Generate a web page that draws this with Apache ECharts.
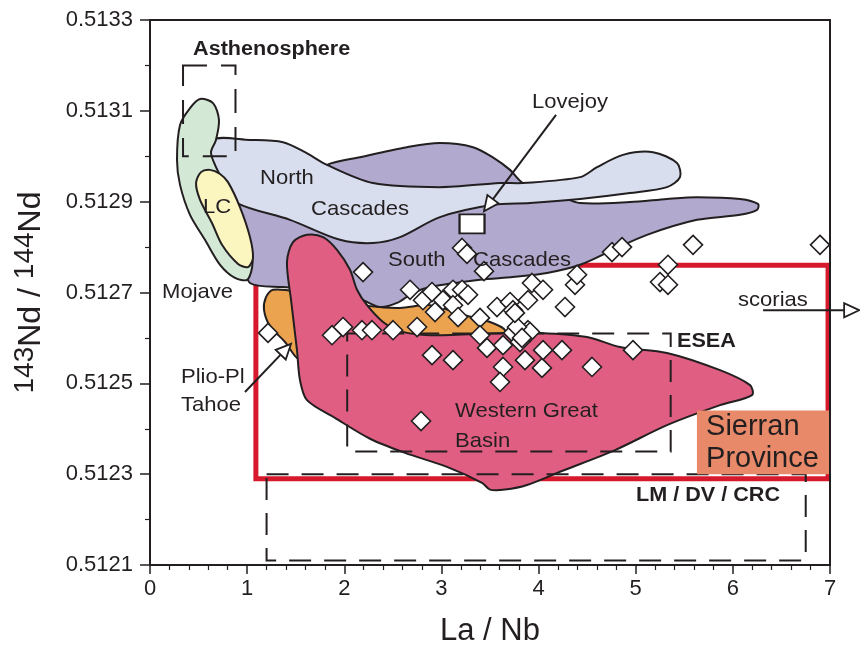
<!DOCTYPE html>
<html><head><meta charset="utf-8">
<script src="https://cdn.jsdelivr.net/npm/echarts@6/dist/echarts.min.js"></script>
<style>html,body{margin:0;padding:0;background:#fff}#c{width:860px;height:654px}</style>
</head><body><div id="c"></div>
<script>
// ---- axis ticks ----
const xTicks = [0, 1, 2, 3, 4, 5, 6, 7];
const yTicks = [0.5121, 0.5123, 0.5125, 0.5127, 0.5129, 0.5131, 0.5133];

// ---- field outlines [La/Nb, 143Nd/144Nd] ----
const mojave = [[0.515,0.513126],[0.649,0.513117],[0.710,0.513080],[0.679,0.513036],[0.628,0.513009],[0.669,0.512981],[0.772,0.512937],[0.885,0.512888],[0.988,0.512827],[1.050,0.512783],[1.050,0.512754],[0.999,0.512728],[0.875,0.512732],[0.721,0.512761],[0.566,0.512816],[0.412,0.512871],[0.309,0.512937],[0.278,0.512992],[0.309,0.513069],[0.412,0.513106]];
const lc = [[0.618,0.512970],[0.721,0.512961],[0.803,0.512943],[0.926,0.512888],[1.029,0.512822],[1.060,0.512776],[1.009,0.512756],[0.906,0.512763],[0.741,0.512805],[0.638,0.512853],[0.515,0.512904],[0.474,0.512941],[0.525,0.512965]];
const northCascades = [[0.638,0.513036],[1.029,0.513036],[1.369,0.513031],[1.596,0.513009],[1.822,0.512981],[2.296,0.512941],[2.985,0.512932],[3.603,0.512941],[3.840,0.512941],[4.427,0.512954],[4.602,0.512976],[4.869,0.513003],[5.178,0.513009],[5.425,0.512985],[5.456,0.512954],[5.322,0.512932],[4.941,0.512919],[4.427,0.512906],[3.912,0.512897],[3.531,0.512893],[2.985,0.512866],[2.574,0.512822],[2.296,0.512809],[1.956,0.512816],[1.441,0.512860],[0.896,0.512897],[0.741,0.512937],[0.638,0.512981]];
const southCascades = [[0.875,0.512908],[1.441,0.512926],[1.822,0.512981],[2.162,0.512998],[2.646,0.513020],[2.985,0.513029],[3.325,0.513020],[3.541,0.512996],[3.706,0.512970],[3.840,0.512941],[4.221,0.512912],[4.427,0.512897],[4.941,0.512899],[5.322,0.512906],[5.631,0.512910],[6.074,0.512906],[6.259,0.512895],[6.249,0.512882],[6.074,0.512871],[5.631,0.512860],[5.116,0.512827],[4.766,0.512794],[4.427,0.512761],[4.087,0.512743],[3.737,0.512734],[3.397,0.512728],[2.882,0.512712],[2.707,0.512699],[2.543,0.512677],[2.368,0.512668],[2.193,0.512683],[1.853,0.512706],[1.369,0.512712],[1.029,0.512721],[0.978,0.512772],[0.875,0.512860]];
const plioTahoe = [[1.266,0.512706],[1.544,0.512701],[1.956,0.512683],[2.265,0.512670],[2.574,0.512666],[2.882,0.512672],[3.222,0.512651],[3.500,0.512635],[3.655,0.512617],[3.603,0.512602],[3.088,0.512600],[2.574,0.512602],[1.853,0.512602],[1.544,0.512569],[1.513,0.512556],[1.390,0.512591],[1.235,0.512626],[1.174,0.512661],[1.194,0.512690]];
const westernGreatBasin = [[1.472,0.512811],[1.616,0.512827],[1.781,0.512822],[1.925,0.512794],[2.059,0.512750],[2.131,0.512706],[2.234,0.512672],[2.399,0.512635],[2.574,0.512615],[2.882,0.512606],[3.634,0.512611],[4.015,0.512611],[4.499,0.512602],[4.838,0.512580],[5.322,0.512567],[5.868,0.512529],[6.177,0.512496],[6.197,0.512474],[5.868,0.512452],[5.322,0.512408],[4.787,0.512353],[4.241,0.512307],[3.881,0.512276],[3.655,0.512266],[3.500,0.512266],[3.418,0.512281],[3.057,0.512316],[2.625,0.512347],[2.265,0.512378],[1.904,0.512424],[1.616,0.512463],[1.544,0.512507],[1.513,0.512573],[1.452,0.512683],[1.410,0.512767]];

// ---- boxes [[x0,y0],[x1,y1]] ----
const asthenosphereBox = [[0.34,0.51300],[0.88,0.51320]];
const eseaBox = [[2.03,0.51235],[5.36,0.51261]];
const lmBox = [[1.20,0.51211],[6.75,0.51230]];
const sierranBox = [[1.09,0.51229],[6.98,0.51276]];
const sierranLabelBox = [[5.63,0.51230],[7.0,0.51244]];

// ---- samples ----
const samples = [[1.215,0.512611],[1.874,0.512606],[1.987,0.512624],[2.182,0.512617],[2.285,0.512617],[2.502,0.512617],[2.749,0.512624],
[2.193,0.512745],[2.677,0.512706],[2.810,0.512683],[2.903,0.512701],[3.016,0.512683],[3.119,0.512706],[3.212,0.512706],[3.274,0.512695],
[2.934,0.512657],[3.119,0.512672],[3.171,0.512646],[3.397,0.512644],[3.572,0.512668],[3.706,0.512679],[3.737,0.512661],[3.891,0.512683],
[3.932,0.512721],[4.046,0.512706],[4.272,0.512668],[4.375,0.512717],[4.396,0.512739],
[3.212,0.512798],[3.263,0.512785],[3.438,0.512747],
[4.756,0.512789],[4.859,0.512800],[5.590,0.512805],[6.897,0.512805],
[5.332,0.512761],[5.250,0.512723],[5.332,0.512717],
[3.397,0.512606],[3.469,0.512578],[3.634,0.512584],[3.737,0.512611],[3.809,0.512591],[3.891,0.512617],[3.912,0.512613],
[3.778,0.512624],[3.829,0.512600],[3.757,0.512655],
[2.903,0.512562],[3.119,0.512551],[3.634,0.512536],[3.860,0.512551],[4.035,0.512534],[4.046,0.512573],[4.241,0.512573],
[3.603,0.512503],[2.790,0.512417],[4.550,0.512536],[4.972,0.512573]];
const lovejoy = [[3.315,0.512851]];

// ---- arrows [from, to] ----
const arrows = [
  [[4.180,0.513091],[3.438,0.512879]],
  [[0.978,0.512481],[1.452,0.512587]],
  [[6.311,0.512661],[7.300,0.512661]]
];

// ---- annotation texts [x, y, text, kind] ----
const labels = [
  [0.443,0.513236,'Asthenosphere','bold'],
  [1.132,0.512952,'North','normal'],
  [1.657,0.512884,'Cascades','normal'],
  [0.546,0.512888,'LC','normal'],
  [3.932,0.513120,'Lovejoy','normal'],
  [2.450,0.512772,'South','normal'],
  [3.325,0.512772,'Cascades','normal'],
  [0.124,0.512701,'Mojave','normal'],
  [0.319,0.512514,'Plio-Pl','normal'],
  [0.319,0.512452,'Tahoe','normal'],
  [6.053,0.512683,'scorias','normal'],
  [5.425,0.512593,'ESEA','bold'],
  [3.140,0.512439,'Western Great','normal'],
  [3.140,0.512373,'Basin','normal'],
  [5.724,0.512404,'Sierran','big'],
  [5.724,0.512333,'Province','big'],
  [5.003,0.512252,'LM / DV / CRC','bold']
];

const INK = '#231f20';
const FONT = '"Liberation Sans", Arial, Helvetica, sans-serif';
const TEXT_STYLES = {
  normal: {fontSize: 21, fontWeight: 'normal', sx: 1.05},
  bold: {fontSize: 20, fontWeight: 'bold', sx: 1.08},
  big: {fontSize: 29, fontWeight: 'normal', sx: 1.0}
};

function polygonSeries(name, pts, fill, z) {
  return {
    type: 'custom', name, z, silent: true,
    data: [pts[0]],
    renderItem: (params, api) => ({
      type: 'polygon',
      shape: {points: pts.map(p => api.coord(p)), smooth: 0.3},
      style: {fill, stroke: INK, lineWidth: 2}
    })
  };
}
function boxSeries(name, box, style, z) {
  return {
    type: 'custom', name, z, silent: true,
    data: [box[0]],
    renderItem: (params, api) => {
      const a = api.coord(box[0]), b = api.coord(box[1]);
      return {
        type: 'rect',
        shape: {x: Math.min(a[0], b[0]), y: Math.min(a[1], b[1]), width: Math.abs(b[0] - a[0]), height: Math.abs(b[1] - a[1])},
        style
      };
    }
  };
}

const chart = echarts.init(document.getElementById('c'), null, {renderer: 'canvas'});
const option = {
  animation: false,
  backgroundColor: '#fff',
  grid: {left: 150, right: 30, top: 20, bottom: 89, outerBoundsMode: 'none'},
  xAxis: [{
    type: 'value', min: xTicks[0], max: xTicks[xTicks.length - 1], interval: 1,
    axisLine: {show: true, onZero: false, lineStyle: {color: INK, width: 2}},
    axisTick: {show: true, length: 9, lineStyle: {color: INK, width: 1.5}},
    minorTick: {show: true, splitNumber: 5, length: 5, lineStyle: {color: INK, width: 1.2}},
    axisLabel: {color: INK, fontSize: 22, fontFamily: FONT, margin: 13, formatter: v => String(v)},
    splitLine: {show: false},
    name: 'La / Nb', nameLocation: 'middle', nameGap: 51,
    nameTextStyle: {color: INK, fontSize: 31, fontFamily: FONT},
    z: 20
  }, {
    type: 'value', min: xTicks[0], max: xTicks[xTicks.length - 1], position: 'top',
    axisLine: {show: true, onZero: false, lineStyle: {color: INK, width: 2}},
    axisTick: {show: false}, axisLabel: {show: false}, splitLine: {show: false}, z: 20
  }],
  yAxis: [{
    type: 'value', min: yTicks[0], max: yTicks[yTicks.length - 1], interval: 0.0002,
    axisLine: {show: true, onZero: false, lineStyle: {color: INK, width: 2}},
    axisTick: {show: true, length: 10, lineStyle: {color: INK, width: 1.5}},
    minorTick: {show: true, splitNumber: 2, length: 5, lineStyle: {color: INK, width: 1.2}},
    axisLabel: {color: INK, fontSize: 22, fontFamily: FONT, margin: 17, formatter: v => v.toFixed(4)},
    splitLine: {show: false},
    name: '{s|143}{b|Nd / }{s|144}{b|Nd}', nameLocation: 'middle', nameRotate: 90, nameGap: 99,
    nameTextStyle: {
      color: INK, fontFamily: FONT,
      rich: {
        b: {fontSize: 32, fontFamily: FONT, color: INK},
        s: {fontSize: 28, fontFamily: FONT, color: INK, padding: [0, 0, 12, 0]}
      }
    },
    z: 20
  }, {
    type: 'value', min: yTicks[0], max: yTicks[yTicks.length - 1], position: 'right',
    axisLine: {show: true, onZero: false, lineStyle: {color: INK, width: 2}},
    axisTick: {show: false}, axisLabel: {show: false}, splitLine: {show: false}, z: 20
  }],
  series: [
    boxSeries('Sierran Province outline', sierranBox, {fill: 'none', stroke: '#d7192d', lineWidth: 5}, 1),
    polygonSeries('Plio-Pl Tahoe', plioTahoe, '#eca350', 2),
    polygonSeries('South Cascades', southCascades, '#b2aace', 3),
    polygonSeries('North Cascades', northCascades, '#d8deee', 4),
    polygonSeries('Mojave', mojave, '#d4e8d6', 5),
    polygonSeries('LC', lc, '#fbf5c0', 6),
    polygonSeries('Western Great Basin', westernGreatBasin, '#e05e82', 7),
    boxSeries('Asthenosphere', asthenosphereBox, {fill: 'none', stroke: INK, lineWidth: 2, lineDash: [24, 14]}, 8),
    boxSeries('ESEA', eseaBox, {fill: 'none', stroke: INK, lineWidth: 2, lineDash: [22, 13]}, 8),
    boxSeries('LM / DV / CRC', lmBox, {fill: 'none', stroke: INK, lineWidth: 2, lineDash: [22, 13]}, 8),
    boxSeries('Sierran label', sierranLabelBox, {fill: '#e88a6a', stroke: 'none'}, 9),
    {
      type: 'scatter', name: 'samples', z: 10, data: samples,
      symbol: 'diamond', symbolSize: 19,
      itemStyle: {color: '#fff', borderColor: INK, borderWidth: 1.6, opacity: 1}
    },
    {
      type: 'scatter', name: 'Lovejoy', z: 11, data: lovejoy,
      symbol: 'rect', symbolSize: [25, 19],
      itemStyle: {color: '#fff', borderColor: INK, borderWidth: 2, opacity: 1}
    },
    {
      type: 'custom', name: 'arrows', z: 12, silent: true, clip: false,
      data: arrows.map(a => a[1]),
      renderItem: (params, api) => {
        const a = arrows[params.dataIndex];
        const p0 = api.coord(a[0]), p1 = api.coord(a[1]);
        const dx = p1[0] - p0[0], dy = p1[1] - p0[1];
        const L = Math.hypot(dx, dy), ux = dx / L, uy = dy / L;
        const hl = 15, hw = 7;
        const bx = p1[0] - ux * hl, by = p1[1] - uy * hl;
        return {type: 'group', children: [
          {type: 'line', shape: {x1: p0[0], y1: p0[1], x2: bx, y2: by}, style: {stroke: INK, lineWidth: 2}},
          {type: 'polygon', shape: {points: [p1, [bx - uy * hw, by + ux * hw], [bx + uy * hw, by - ux * hw]]},
            style: {fill: '#fff', stroke: INK, lineWidth: 1.8}}
        ]};
      }
    },
    {
      type: 'custom', name: 'annotations', z: 13, silent: true, clip: false,
      data: labels.map(l => [l[0], l[1]]),
      renderItem: (params, api) => {
        const l = labels[params.dataIndex];
        const st = TEXT_STYLES[l[3]];
        const p = api.coord([l[0], l[1]]);
        return {
          type: 'text', x: p[0], y: p[1], scaleX: st.sx,
          style: {text: l[2], fill: INK, fontSize: st.fontSize, fontWeight: st.fontWeight, fontFamily: FONT,
            align: 'left', verticalAlign: 'middle'}
        };
      }
    }
  ]
};
chart.setOption(option);
</script>
</body></html>
